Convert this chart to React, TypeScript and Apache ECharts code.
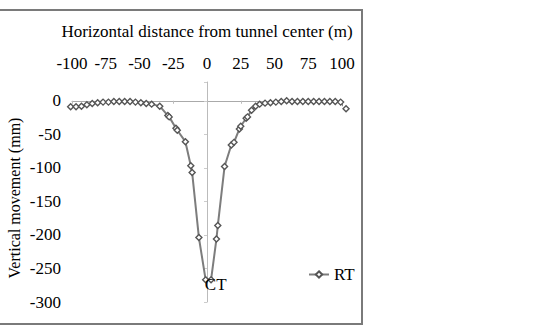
import React, { useEffect, useRef } from "react";
import * as echarts from "echarts";

const xTitle = "Horizontal distance from tunnel center (m)";
const yTitle = "Vertical movement (mm)";
const seriesName = "RT";
const centerLabel = "CT";

const distance = [
  -101, -97, -93, -89, -85, -81, -77, -73, -69, -65, -61, -57, -53, -49, -45, -41,
  -35, -29, -28, -23, -22, -16, -12, -11, -6, -1,
  3, 7, 8, 13, 18, 20, 24, 25, 29, 30, 33, 36, 39, 43, 47, 51, 55, 59, 63, 67, 71,
  75, 79, 83, 87, 91, 95, 99, 103,
];
const movement = [
  -9, -9, -8, -6, -4, -3, -2, -2, -1, -1, -1, -1, -2, -3, -4, -5,
  -8, -22, -24, -41, -44, -61, -97, -107, -204, -267,
  -267, -206, -186, -98, -66, -62, -42, -38, -26, -24, -14, -8, -5, -3.5, -3, -2, -1, 0, -1, -1, -1,
  -1, -1, -1, -1, -1, -1, -2, -12,
];
const ctIndex = 25;

const serif = "'Liberation Serif', 'Times New Roman', 'DejaVu Serif', serif";

const data = distance.map((x, i) =>
  i === ctIndex
    ? {
        value: [x, movement[i]],
        label: {
          show: true,
          formatter: centerLabel,
          position: "inside",
          offset: [10, 5],
          color: "#000",
          fontFamily: serif,
          fontSize: 17,
        },
      }
    : [x, movement[i]]
);

export default function App() {
  const ref = useRef<HTMLDivElement>(null);
  useEffect(() => {
    document.body.style.margin = "0";
    const chart = echarts.init(ref.current!, null, { renderer: "svg" });
    chart.setOption({
      animation: false,
      backgroundColor: "#ffffff",
      textStyle: { fontFamily: serif },
      grid: { left: 72, width: 270, top: 82, height: 220, containLabel: false },
      legend: {
        data: [seriesName],
        left: 303,
        top: 261,
        itemWidth: 20,
        itemHeight: 8,
        itemGap: 4,
        textStyle: { fontFamily: serif, fontSize: 17, color: "#000" },
      },
      xAxis: [
        {
          type: "value",
          position: "top",
          min: -100,
          max: 100,
          interval: 25,
          axisLine: { show: false, onZero: false },
          axisTick: { show: false },
          splitLine: { show: false },
          axisLabel: { fontFamily: serif, fontSize: 17, color: "#000", margin: 10 },
          name: xTitle,
          nameLocation: "middle",
          nameGap: 42,
          nameTextStyle: { fontFamily: serif, fontSize: 17, color: "#000" },
        },
        {
          type: "value",
          position: "bottom",
          min: -100,
          max: 100,
          interval: 25,
          axisLine: { show: true, onZero: true, lineStyle: { color: "#aaaaaa", width: 1 } },
          axisTick: { show: true, length: 3, lineStyle: { color: "#bbbbbb" } },
          axisLabel: { show: false },
          splitLine: { show: false },
        },
      ],
      yAxis: [
        {
          type: "value",
          min: -300,
          max: 28,
          interval: 50,
          axisLine: { show: false, onZero: false },
          axisTick: { show: false },
          splitLine: { show: false },
          axisLabel: {
            fontFamily: serif,
            fontSize: 17,
            color: "#000",
            margin: 11,
            showMaxLabel: false,
            formatter: (v: number) => (v > 0 ? "" : String(v)),
          },
          name: yTitle,
          nameLocation: "middle",
          nameGap: 50,
          nameRotate: 90,
          nameTextStyle: { fontFamily: serif, fontSize: 16, color: "#000", padding: [0, 0, 0, -12] },
        },
        {
          type: "value",
          min: -300,
          max: 28,
          interval: 50,
          position: "left",
          axisLine: { show: true, onZero: true, onZeroAxisIndex: 1, lineStyle: { color: "#bbbbbb", width: 1 } },
          axisTick: { show: true, length: 3, lineStyle: { color: "#cccccc" } },
          axisLabel: { show: false },
          splitLine: { show: false },
        },
      ],
      series: [
        {
          name: seriesName,
          type: "line",
          xAxisIndex: 1,
          yAxisIndex: 0,
          data,
          clip: false,
          symbol: "diamond",
          symbolSize: 6,
          lineStyle: { color: "#7d7d7d", width: 2 },
          itemStyle: { color: "#ffffff", borderColor: "#555555", borderWidth: 1.4 },
        },
      ],
      graphic: [
        {
          type: "rect",
          shape: { x: -5, y: 10, width: 367, height: 314 },
          style: { fill: "none", stroke: "#7a7a7a", lineWidth: 2 },
          z: 100,
        },
      ],
    });
    return () => chart.dispose();
  }, []);
  return <div ref={ref} style={{ position: "fixed", left: 0, top: 0, width: 543, height: 328 }} />;
}
